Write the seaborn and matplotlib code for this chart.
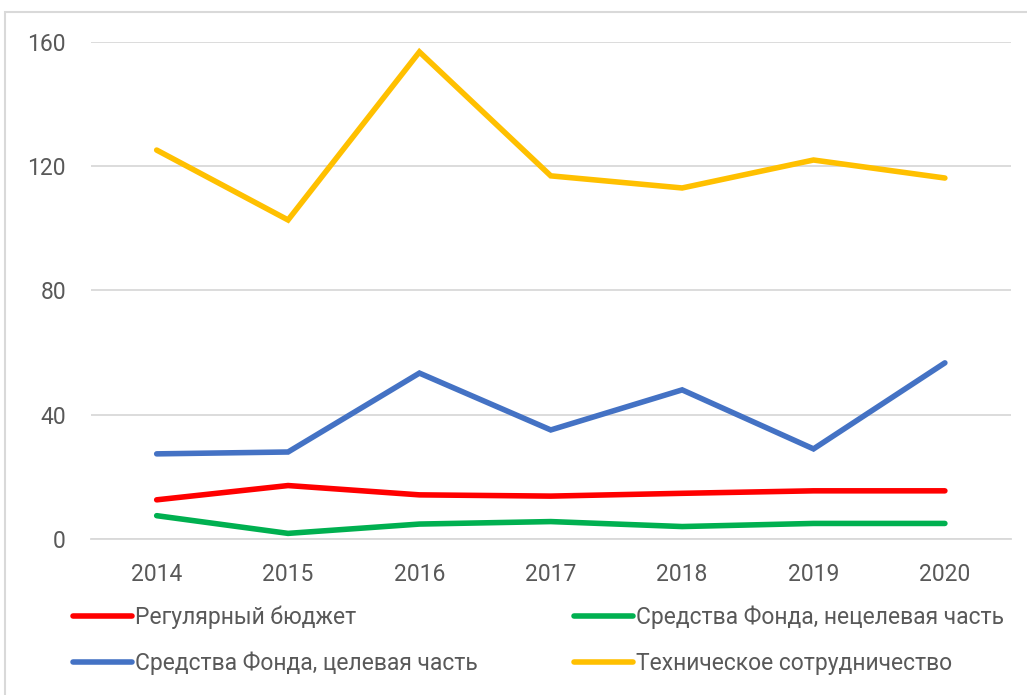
import matplotlib
matplotlib.use("Agg")
import matplotlib.pyplot as plt
import seaborn as sns
import pandas as pd
from matplotlib.patches import Rectangle

# Data
years = [2014, 2015, 2016, 2017, 2018, 2019, 2020]
regular_budget = [12.6, 17.2, 14.2, 13.8, 14.7, 15.5, 15.5]
fund_untied = [7.5, 1.8, 4.8, 5.6, 4.0, 5.0, 5.0]
fund_tied = [27.4, 28.0, 53.4, 35.1, 48.0, 29.0, 56.7]
tech_coop = [125.2, 102.7, 156.8, 116.9, 113.0, 122.0, 116.2]

series_names = [
    "Регулярный бюджет",
    "Средства Фонда, нецелевая часть",
    "Средства Фонда, целевая часть",
    "Техническое сотрудничество",
]
series_values = [regular_budget, fund_untied, fund_tied, tech_coop]
colors = ["#FF0000", "#00B050", "#4472C4", "#FFC000"]
y_ticks = [0, 40, 80, 120, 160]

# long-form table for seaborn
rows = []
for name, vals in zip(series_names, series_values):
    for yr, v in zip(years, vals):
        rows.append({"Год": yr, "Значение": v, "Серия": name})
df = pd.DataFrame(rows)

sns.set_theme(style="white")
plt.rcParams["font.family"] = ["Roboto", "DejaVu Sans"]
text_color = "#595959"
grid_color = "#D9D9D9"
font_size = 16.5

fig = plt.figure(figsize=(10.27, 6.95), dpi=100)
ax = fig.add_axes([0.0886, 0.2245, 0.8954, 0.7151])

# outer chart border
fig.patches.append(Rectangle((5 / 1027, -0.1), 1.2, 1 - 12 / 695 + 0.1,
                             transform=fig.transFigure, fill=False,
                             edgecolor=grid_color, linewidth=1.5))

sns.lineplot(data=df, x="Год", y="Значение", hue="Серия",
             hue_order=series_names, palette=dict(zip(series_names, colors)),
             linewidth=4.0, ax=ax, legend=False, sort=False)
for line in ax.lines:
    line.set_solid_capstyle("round")
    line.set_solid_joinstyle("miter")

ax.set_xlim(years[0] - 0.5, years[-1] + 0.5)
ax.set_ylim(0, 160)
ax.set_xticks(years)
ax.set_yticks(y_ticks)
ax.set_xlabel("")
ax.set_ylabel("")
ax.yaxis.grid(True, color=grid_color, linewidth=1.3)
ax.set_axisbelow(True)
for side in ["top", "right", "left"]:
    ax.spines[side].set_visible(False)
ax.spines["bottom"].set_color(grid_color)
ax.spines["bottom"].set_linewidth(1.3)
ax.tick_params(axis="both", length=0, labelsize=font_size, labelcolor=text_color)
ax.tick_params(axis="y", pad=18)
ax.tick_params(axis="x", pad=17)

# legend: column 1 red/blue, column 2 green/yellow
handles = [plt.Line2D([], [], color=c, linewidth=4.0, solid_capstyle="round") for c in colors]
order = [0, 2, 1, 3]
leg = fig.legend([handles[i] for i in order], [series_names[i] for i in order],
                 ncol=2, loc="upper left", bbox_to_anchor=(0.062, 0.142),
                 frameon=False, fontsize=font_size, handlelength=2.6,
                 handletextpad=0.1, columnspacing=4.2, labelspacing=1.0,
                 borderaxespad=0)
for t in leg.get_texts():
    t.set_color(text_color)

fig.savefig("out.png", dpi=100)
